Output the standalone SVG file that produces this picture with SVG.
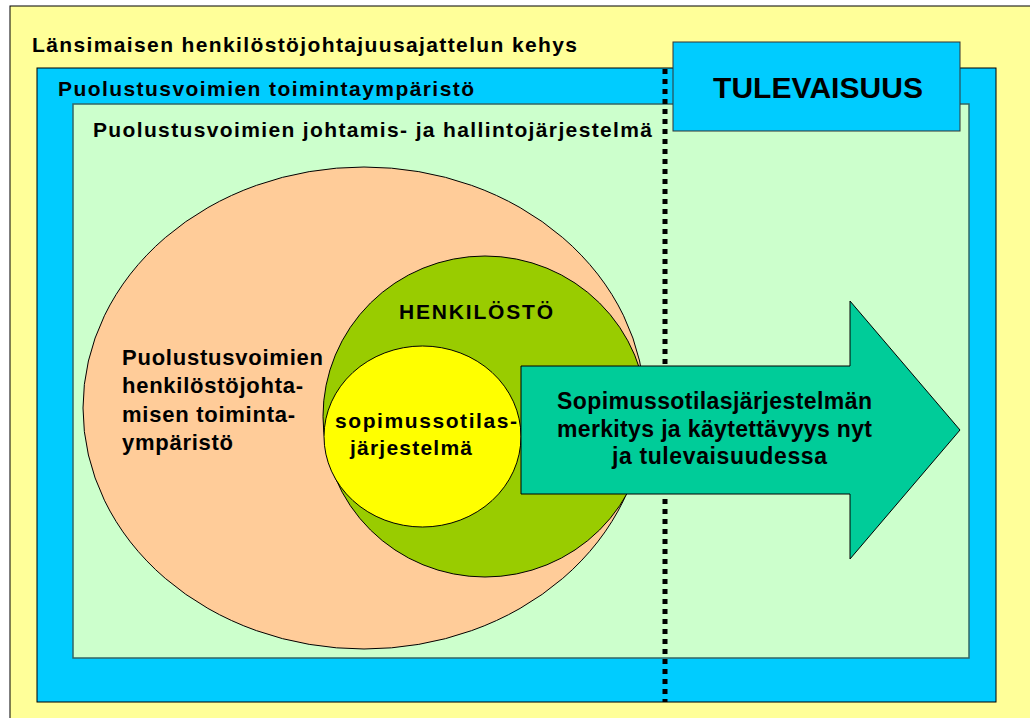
<svg xmlns="http://www.w3.org/2000/svg" width="1030" height="718" viewBox="0 0 1030 718">
<style>
text{font-family:"Liberation Sans",Arial,sans-serif;font-weight:bold;fill:#000}
.t21{font-size:21px}
.t22{font-size:22px}
.t23{font-size:23px}
.t30{font-size:30px}
.shape{stroke:#000;stroke-width:1}
</style>
<rect width="1030" height="718" fill="#ffffff"/>
<g id="frame">
<rect x="10" y="6" width="1040" height="730" fill="#FFFF99" class="shape"/>
<text class="t21" x="32" y="52" textLength="545" lengthAdjust="spacing">Länsimaisen henkilöstöjohtajuusajattelun kehys</text>
</g>
<g id="environment">
<rect x="37" y="68" width="959" height="634" fill="#00CCFF" class="shape"/>
<text class="t21" x="58" y="96" textLength="416" lengthAdjust="spacing">Puolustusvoimien toimintaympäristö</text>
</g>
<g id="system">
<rect x="73" y="104" width="896" height="554" fill="#CCFFCC" stroke="#336666" stroke-width="1.5"/>
<text class="t21" x="93" y="137" textLength="559" lengthAdjust="spacing">Puolustusvoimien johtamis- ja hallintojärjestelmä</text>
</g>
<g id="future">
<rect x="673" y="42" width="287" height="89" fill="#00CCFF" stroke="#333333" stroke-width="1"/>
<text class="t30" x="818" y="98" text-anchor="middle" textLength="210" lengthAdjust="spacing">TULEVAISUUS</text>
</g>
<g id="connectors">
<line x1="665" y1="69" x2="665" y2="702" stroke="#000" stroke-width="5" stroke-dasharray="5 5"/>
</g>
<g id="hr-environment">
<ellipse cx="364" cy="408" rx="281" ry="241" fill="#FFCC99" class="shape"/>
<text class="t22" x="122" y="365" textLength="201" lengthAdjust="spacing">Puolustusvoimien</text>
<text class="t22" x="122" y="393.3" textLength="181" lengthAdjust="spacing">henkilöstöjohta-</text>
<text class="t22" x="122" y="421.6" textLength="173" lengthAdjust="spacing">misen toiminta-</text>
<text class="t22" x="122" y="449.9" textLength="111" lengthAdjust="spacing">ympäristö</text>
</g>
<g id="personnel">
<ellipse cx="485" cy="416.5" rx="162" ry="160.5" fill="#99CC00" class="shape"/>
<text class="t21" x="399" y="319" textLength="154" lengthAdjust="spacing">HENKILÖSTÖ</text>
</g>
<g id="contract-system">
<ellipse cx="422.5" cy="436.5" rx="98.5" ry="90.5" fill="#FFFF00" class="shape"/>
<text class="t21" x="335" y="428" textLength="182" lengthAdjust="spacing">sopimussotilas-</text>
<text class="t21" x="350" y="455" textLength="122" lengthAdjust="spacing">järjestelmä</text>
</g>
<g id="arrow">
<polygon points="521,366 850,366 850,301 960,430 850,559 850,494 521,494" fill="#00CC99" class="shape"/>
<text class="t23" x="557" y="409" textLength="315" lengthAdjust="spacing">Sopimussotilasjärjestelmän</text>
<text class="t23" x="557" y="437" textLength="315" lengthAdjust="spacing">merkitys ja käytettävyys nyt</text>
<text class="t23" x="612" y="464" textLength="215" lengthAdjust="spacing">ja tulevaisuudessa</text>
</g>
</svg>
